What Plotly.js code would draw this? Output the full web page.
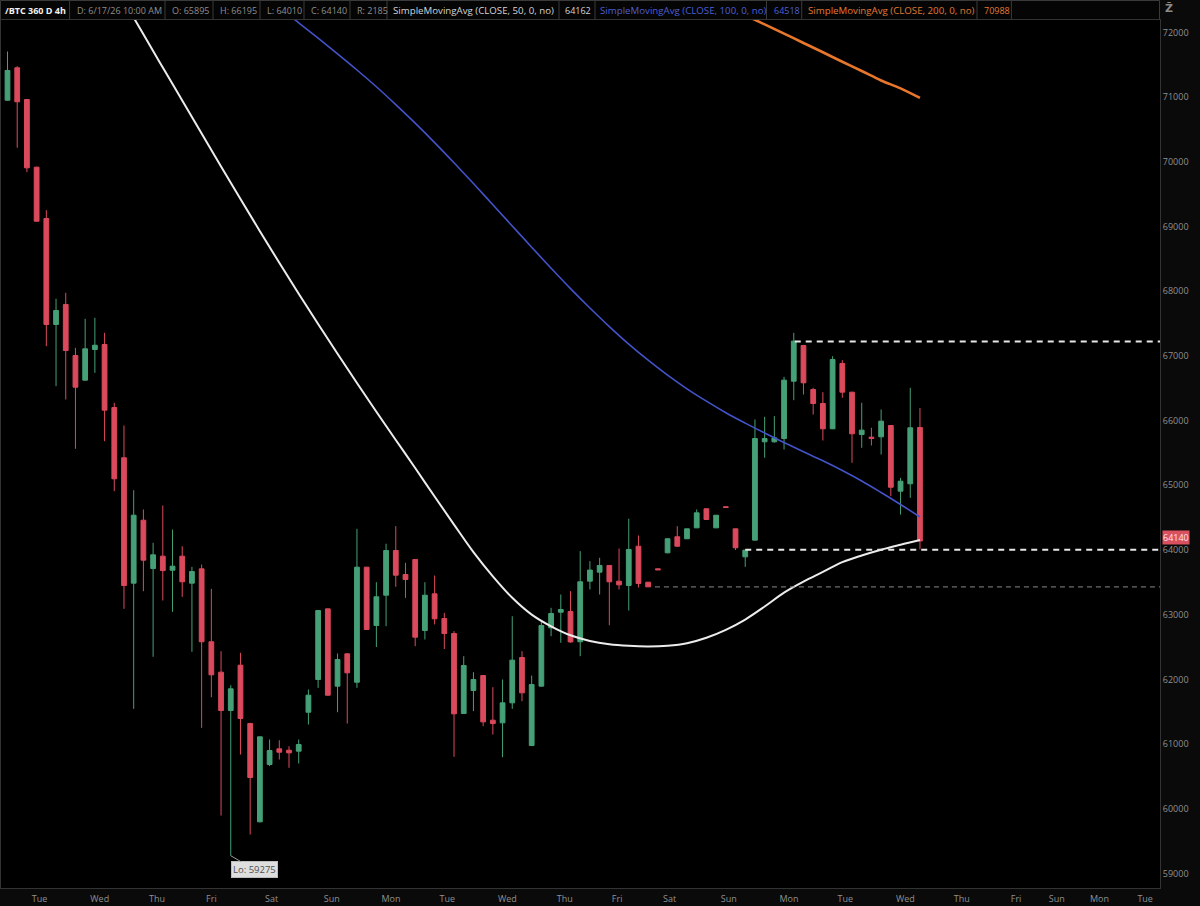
<!DOCTYPE html>
<html>
<head>
<meta charset="utf-8">
<script src="https://cdn.plot.ly/plotly-3.0.1.min.js"></script>
<style>
  html, body { margin: 0; padding: 0; background: #0a0a0a; }
  #chart { width: 1200px; height: 906px; }
</style>
</head>
<body>
<div id="chart"></div>
<script>
// ---------------- DATA ----------------
// 4h candles, oldest first (bar index = position in array)
const candleOpen = [70953,71454,70964,69918,69125,67486,67796,67007,66626,67100,67177,66203,65426,63488,64461,63714,63905,63688,63905,63488,63710,62582,62112,61519,62220,61319,59799,60685,60927,60906,60891,61493,61999,63091,61896,62396,61957,63735,62834,63302,63993,63622,63854,62756,63323,62941,62709,61473,61829,62060,61370,61329,61638,62339,60978,61896,62798,63039,63050,62582,63519,63658,63762,63519,63452,64059,63503,63710,63957,64205,64174,64343,64638,64343,64670,64328,63895,64153,65673,65673,65724,66610,67162,66482,66265,65874,66883,66440,65786,65745,65750,65925,64910,65024,65895];
const candleHigh = [71706,71480,70970,69925,69253,67884,67976,67126,67574,67590,67358,66276,65925,64925,64627,64112,64689,64317,64059,63740,63776,63400,62436,61911,62411,61330,61113,61071,61060,60968,61071,61844,63070,63095,62400,62400,64328,63740,63503,64097,64369,63802,63860,63503,63606,63029,62747,62359,62112,62065,61880,61999,62977,62436,62060,62900,63107,63313,63364,63983,63828,63880,63765,64024,64483,64225,63505,63712,64180,64369,64330,64627,64640,64540,64672,64330,63998,66018,66059,66070,66678,67358,67170,66508,66440,66996,66935,66445,66276,65890,66172,65930,65116,66508,66195];
const candleLow = [70949,70218,69841,69075,67151,66533,66327,65565,66620,66739,65683,64910,63091,61545,63364,62350,63220,63045,63277,62427,61252,61725,59896,59275,60839,59603,59790,60660,60762,60634,60700,61303,61870,61750,61493,61318,61870,62765,62501,62823,63431,63261,62514,62617,62850,62470,60804,61470,61509,61277,61148,60798,61545,61664,60975,61890,62668,62566,62566,62359,63390,63313,62838,63390,63065,63421,63431,63690,63950,64055,64170,64340,64468,64340,64655,64000,63740,64150,65426,65660,65554,66316,66404,66095,65693,65870,66353,65349,65580,65616,65477,64832,64549,64807,64010];
const candleClose = [71413,70929,69908,69083,67486,67703,67084,66517,67110,67166,66162,65101,63452,64538,63843,63926,63683,63750,63509,63668,62582,62071,61519,61855,61396,60484,61113,60901,60875,60865,60994,61756,63065,61756,62308,62102,63735,62772,63277,63993,63611,63544,62653,63302,62937,62709,61468,62215,61999,61344,61318,61638,62298,61793,61921,62834,63019,63081,62580,63509,63690,63762,63509,63462,64009,63483,63431,63695,64174,64059,64328,64575,64472,64538,64658,64035,63998,65724,65724,65734,66626,67229,66585,66265,65874,66945,66440,65797,65853,65725,65992,64971,65064,65890,64140];

// Simple moving averages, sampled at bar indices
const sma50Index  = [12,14,16,18,20,22,24,26,28,30,32,34,36,38,40,42,44,46,48,50,52,54,56,58,60,62,64,66,68,70,72,74,76,78,80,82,84,86,88,90,92,94];
const sma50Value  = [72487,71971,71459,70949,70439,69929,69426,68929,68440,67962,67494,67035,66582,66138,65701,65268,64827,64393,63968,63594,63262,63002,62821,62682,62594,62543,62519,62510,62521,62560,62645,62767,62926,63127,63342,63512,63661,63812,63916,64005,64082,64155];
const sma100Index = [28,30,32,34,36,38,40,42,44,46,48,50,52,54,56,58,60,62,64,66,68,70,72,74,76,78,80,82,84,86,88,90,92,94];
const sma100Value = [72380,72150,71913,71669,71420,71161,70885,70598,70298,69986,69666,69338,69009,68680,68357,68041,67741,67454,67183,66934,66703,66492,66301,66123,65962,65809,65662,65519,65379,65229,65067,64889,64704,64511];
const sma200Index = [76,78,80,82,84,86,88,90,92,94];
const sma200Value = [72266,72125,71983,71838,71694,71547,71405,71258,71137,70988];

// Horizontal reference levels
const levelHigh = 67225;   // white dashed, from the swing high
const levelMid  = 64005;   // white dashed
const levelLow  = 63430;   // grey dashed
const lowLabelBar = 23, lowLabelValue = 59275;
const lastPrice = 64140;

// Axis labels
const dayLabels    = ['Tue','Wed','Thu','Fri','Sat','Sun','Mon','Tue','Wed','Thu','Fri','Sat','Sun','Mon','Tue','Wed','Thu','Fri','Sun','Mon','Tue'];
const dayTickIndex = [3.3,9.5,15.4,21.0,27.2,33.4,39.5,45.3,51.5,57.4,62.8,68.2,74.3,80.5,86.3,92.5,98.3,103.9,108.1,112.5,117.2];
const priceTicks   = [59000,60000,61000,62000,63000,64000,65000,66000,67000,68000,69000,70000,71000,72000];

// Header strip texts
const headerTexts = ['/BTC 360 D 4h','D: 6/17/26 10:00 AM','O: 65895','H: 66195','L: 64010','C: 64140','R: 2185',
  'SimpleMovingAvg (CLOSE, 50, 0, no)','64162','SimpleMovingAvg (CLOSE, 100, 0, no)','64518','SimpleMovingAvg (CLOSE, 200, 0, no)','70988'];

// ---------------- LAYOUT / STYLE ----------------
const L = 1, R = 40, T = 20, B = 18;
const W = 1200 - L - R, H = 906 - T - B;
const px2x = px => (px - L) / W;
const py2y = py => (906 - B - py) / H;

const barIndex = candleOpen.map((_, i) => i);

const GREEN = '#46a077', RED = '#da4a5c';

const traces = [
  {
    type: 'candlestick',
    x: barIndex, open: candleOpen, high: candleHigh, low: candleLow, close: candleClose,
    increasing: { line: { color: GREEN, width: 1 }, fillcolor: GREEN },
    decreasing: { line: { color: RED, width: 1 }, fillcolor: RED },
    whiskerwidth: 0,
    hoverinfo: 'skip',
    showlegend: false
  },
  { type: 'scatter', mode: 'lines', x: sma100Index, y: sma100Value,
    line: { color: '#4353c9', width: 1.6, shape: 'spline', smoothing: 1 }, hoverinfo: 'skip', showlegend: false },
  { type: 'scatter', mode: 'lines', x: sma200Index, y: sma200Value,
    line: { color: '#e8772c', width: 2.6, shape: 'spline' }, hoverinfo: 'skip', showlegend: false },
  { type: 'scatter', mode: 'lines', x: sma50Index, y: sma50Value,
    line: { color: '#ececec', width: 2, shape: 'spline', smoothing: 1 }, hoverinfo: 'skip', showlegend: false }
];

const xMin = (L - 7.5) / 9.707, xMax = (1200 - R - 7.5) / 9.707;

const shapes = [
  { type: 'line', xref: 'x', yref: 'y', x0: 81.1, x1: xMax, y0: levelHigh, y1: levelHigh,
    line: { color: '#e6e6e6', width: 2, dash: '6px,5px' } },
  { type: 'line', xref: 'x', yref: 'y', x0: 76, x1: xMax, y0: levelMid, y1: levelMid,
    line: { color: '#e6e6e6', width: 2, dash: '6px,5px' } },
  { type: 'line', xref: 'x', yref: 'y', x0: 66.7, x1: xMax, y0: levelLow, y1: levelLow,
    line: { color: '#8a8a8a', width: 1, dash: '5px,4px' } },
  // header strip
  { type: 'rect', xref: 'paper', yref: 'paper', x0: px2x(0.5), x1: px2x(1159.5), y0: py2y(19.5), y1: py2y(0.5),
    line: { color: '#3a3a3a', width: 1 }, fillcolor: '#050505', layer: 'below' }
];
[69.6, 165, 213, 260, 304, 350, 387, 559, 595, 766.5, 801.7, 977, 1011.4].forEach(px => {
  shapes.push({ type: 'line', xref: 'paper', yref: 'paper', x0: px2x(px), x1: px2x(px), y0: py2y(19.5), y1: py2y(0.5),
    line: { color: '#3a3a3a', width: 1 } });
});

const headerStarts = [3, 75, 170, 218, 265, 309, 355, 391, 563, 598, 772, 806, 982];
const headerSizes  = [9, 9, 9, 9, 9, 9, 9, 9.7, 9, 9.7, 9, 9.7, 9];
const headerColors = ['#f2f2f2','#8e8e8e','#8e8e8e','#8e8e8e','#8e8e8e','#8e8e8e','#8e8e8e',
  '#d4d4d4','#d4d4d4','#4c5fd6','#4c5fd6','#e07a33','#e07a33'];

const annotations = headerTexts.map((t, i) => ({
  xref: 'paper', yref: 'paper', x: px2x(headerStarts[i]), y: py2y(10),
  xanchor: 'left', yanchor: 'middle', showarrow: false,
  text: i === 0 ? '<b>' + t + '</b>' : t,
  font: { family: 'Open Sans, sans-serif', size: headerSizes[i], color: headerColors[i] }
}));

annotations.push({
  xref: 'paper', yref: 'paper', x: px2x(1169), y: py2y(9), xanchor: 'center', yanchor: 'middle',
  showarrow: false, text: '<b>Z̄</b>', font: { family: 'DejaVu Sans, sans-serif', size: 11, color: '#8a8a8a' }
});

annotations.push({
  xref: 'x', yref: 'y', x: lowLabelBar, y: lowLabelValue,
  text: 'Lo: ' + lowLabelValue, showarrow: true, arrowhead: 0, arrowwidth: 1, arrowcolor: '#9a9a9a',
  ax: 24, ay: 14, bgcolor: '#dedede', bordercolor: '#bdbdbd', borderwidth: 1, borderpad: 1,
  font: { family: 'Open Sans, sans-serif', size: 9.5, color: '#505050' }
});

annotations.push({
  xref: 'paper', yref: 'y', x: 1, y: lastPrice, xanchor: 'left', yanchor: 'middle', xshift: 2, yshift: 3,
  text: String(lastPrice), showarrow: false, bgcolor: '#d9505f', borderpad: 0,
  font: { family: 'Open Sans, sans-serif', size: 9, color: '#ffe3e6' }
});

const layout = {
  width: 1200, height: 906,
  margin: { l: L, r: R, t: T, b: B, pad: 0 },
  paper_bgcolor: '#0a0a0a',
  plot_bgcolor: '#000000',
  showlegend: false,
  dragmode: false,
  boxgap: 0.3,
  xaxis: {
    type: 'linear', range: [xMin, xMax], fixedrange: true,
    rangeslider: { visible: false },
    tickmode: 'array', tickvals: dayTickIndex, ticktext: dayLabels,
    showgrid: false, zeroline: false, ticks: 'outside', ticklen: 2, tickcolor: 'rgba(0,0,0,0)',
    showline: true, linecolor: '#333333', linewidth: 1, mirror: true,
    tickfont: { family: 'Open Sans, sans-serif', size: 9, color: '#909090' }
  },
  yaxis: {
    side: 'right', range: [58776, 72193], fixedrange: true,
    tickmode: 'array', tickvals: priceTicks, ticktext: priceTicks.map(String),
    showgrid: false, zeroline: false, ticks: '',
    showline: true, linecolor: '#333333', linewidth: 1, mirror: true,
    tickfont: { family: 'Open Sans, sans-serif', size: 9, color: '#909090' }
  },
  shapes: shapes,
  annotations: annotations
};

Plotly.newPlot('chart', traces, layout, { displayModeBar: false, staticPlot: true });
</script>
</body>
</html>
